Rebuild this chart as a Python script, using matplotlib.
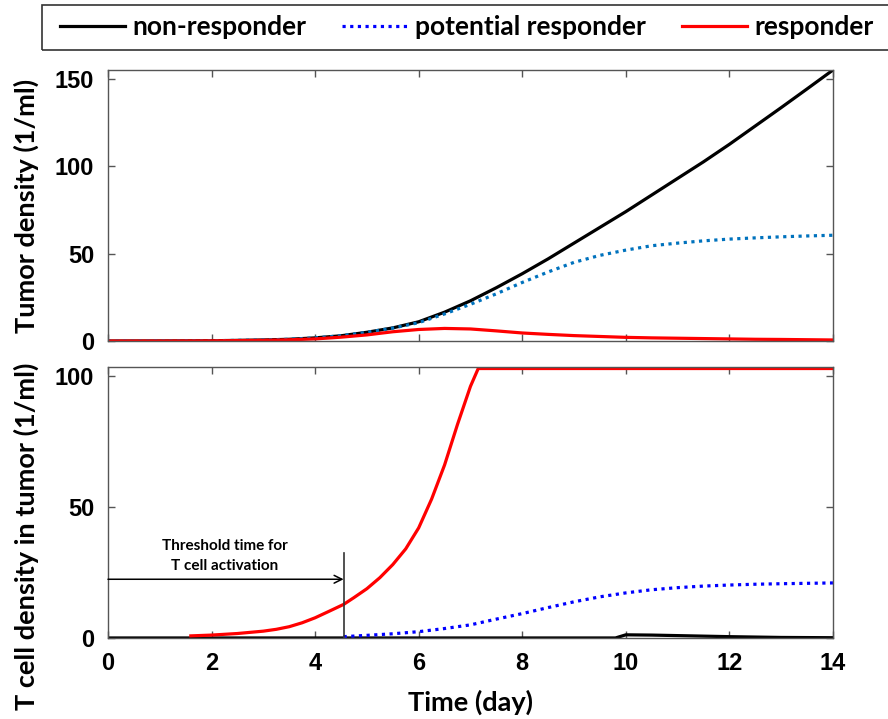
import matplotlib
matplotlib.use('Agg')
import matplotlib.pyplot as plt
from matplotlib.font_manager import FontProperties
from matplotlib.patches import Rectangle

# tumor density (top panel)
t_tum = [0, 1, 2, 3, 3.5, 4, 4.5, 5, 5.5, 6, 6.5, 7, 7.5, 8, 8.5, 9, 9.5, 10,
         10.5, 11, 11.5, 12, 12.5, 13, 13.5, 14]
tum_non = [0, 0.05, 0.15, 0.6, 1.0, 1.8, 3.0, 5.0, 7.5, 11, 16.5, 23, 30.5, 38.5,
           47, 56, 65, 74, 83.5, 93, 102.5, 112.5, 123, 133.5, 144.2, 155]
tum_pot = [0, 0.05, 0.15, 0.6, 1.0, 1.8, 3.0, 5.0, 7.4, 10.5, 15.5, 21, 27, 33.5,
           39.5, 45, 49, 52, 54.5, 56, 57.3, 58.3, 59, 59.6, 60.1, 60.5]
tum_resp = [0, 0, 0.1, 0.4, 0.7, 1.2, 2.2, 3.5, 5.3, 6.6, 7.2, 6.9, 5.8, 4.6,
            3.8, 3.1, 2.6, 2.1, 1.8, 1.6, 1.4, 1.2, 1.0, 0.9, 0.75, 0.6]

# T cell density in tumor (bottom panel)
t_tc_resp = [1.6, 2, 2.5, 3, 3.25, 3.5, 3.75, 4, 4.25, 4.55, 4.75, 5, 5.25, 5.5,
             5.75, 6, 6.25, 6.5, 6.75, 7, 7.15, 8, 10, 12, 14]
tc_resp = [0.8, 1.1, 1.7, 2.6, 3.3, 4.3, 5.8, 7.7, 10.0, 12.8, 15.4, 18.8, 23, 28,
           34, 42, 53, 66, 81.5, 96, 102.8, 102.8, 102.8, 102.8, 102.8]
t_tc_pot = [4.55, 5, 5.5, 6, 6.5, 7, 7.5, 8, 8.5, 9, 9.5, 10, 10.5, 11, 11.5,
            12, 12.5, 13, 13.5, 14]
tc_pot = [0.5, 1.0, 1.6, 2.4, 3.6, 5.0, 7.2, 9.3, 11.6, 13.8, 15.7, 17.2, 18.4,
          19.2, 19.8, 20.2, 20.5, 20.7, 20.85, 21]
t_tc_non = [0, 9.8, 10, 10.5, 11, 12, 13, 14]
tc_non = [0, 0, 1.2, 1.1, 0.9, 0.5, 0.2, 0.1]

threshold_t = 4.55
x_ticks = [0, 2, 4, 6, 8, 10, 12, 14]

lab_font = dict(family='Lato', weight='bold', size=19.5)
tick_fp = FontProperties(family='Liberation Sans', weight='bold', size=17)

fig = plt.figure(figsize=(8.88, 7.19), dpi=100)
ax1 = fig.add_axes([0.1216, 0.5257, 0.8164, 0.3769])
ax2 = fig.add_axes([0.1216, 0.1127, 0.8164, 0.3773])

lw = 2.3
h1, = ax1.plot(t_tum, tum_non, color='black', lw=lw)
ax1.plot(t_tum, tum_pot, color='#0072BD', lw=lw, linestyle=(0, (1, 1.4)))
h3, = ax1.plot(t_tum, tum_resp, color='red', lw=lw)

ax2.plot(t_tc_non, tc_non, color='black', lw=lw)
h2, = ax2.plot(t_tc_pot, tc_pot, color='blue', lw=lw, linestyle=(0, (1, 1.4)))
ax2.plot(t_tc_resp, tc_resp, color='red', lw=lw)

# threshold annotation
ax2.plot([threshold_t, threshold_t], [0, 32.4], color='#333333', lw=1.2)
ax2.annotate('', xy=(threshold_t, 22.4), xytext=(0, 22.4),
             arrowprops=dict(arrowstyle='->', color='black', lw=1.1,
                             shrinkA=0, shrinkB=0, mutation_scale=14))
ax2.text(2.26, 31.3, 'Threshold time for\nT cell activation', ha='center',
         va='center', family='Lato', weight='bold', size=11, linespacing=1.5)

for ax in (ax1, ax2):
    ax.set_xlim(0, 14)
    ax.set_xticks(x_ticks)
    ax.tick_params(direction='in', top=True, right=True, length=5,
                   color='#555555', width=1, pad=10)
    for s in ax.spines.values():
        s.set_color('#555555')
        s.set_linewidth(1)

ax1.set_ylim(0, 155)
ax1.set_yticks([0, 50, 100, 150])
ax1.set_xticklabels([])
ax2.set_ylim(0, 103.5)
ax2.set_yticks([0, 50, 100])
for ax in (ax1, ax2):
    for lab in ax.get_yticklabels() + ax.get_xticklabels():
        lab.set_fontproperties(tick_fp)

ax1.set_ylabel('Tumor density (1/ml)', fontdict=lab_font)
ax1.yaxis.set_label_coords(-0.095, 0.5)
ax2.set_ylabel('T cell density in tumor (1/ml)', fontdict=lab_font)
ax2.yaxis.set_label_coords(-0.095, 0.376)
ax2.set_xlabel('Time (day)', fontdict=lab_font)
ax2.xaxis.set_label_coords(0.5, -0.19)

# legend box spanning the top of the figure
fig.patches.append(Rectangle((0.0473, 0.9305), 0.96, 0.0626, transform=fig.transFigure,
                             fill=False, edgecolor='#333333', lw=1.2))
fig.legend([h1, h2, h3], ['non-responder', 'potential responder', 'responder'],
           loc='center left', bbox_to_anchor=(0.0676, 0.9618), ncol=3,
           frameon=False, borderpad=0, borderaxespad=0, handlelength=2.46,
           handletextpad=0.3, columnspacing=1.35,
           prop=dict(family='Lato', weight='bold', size=19))

fig.savefig('out.png', dpi=100)
